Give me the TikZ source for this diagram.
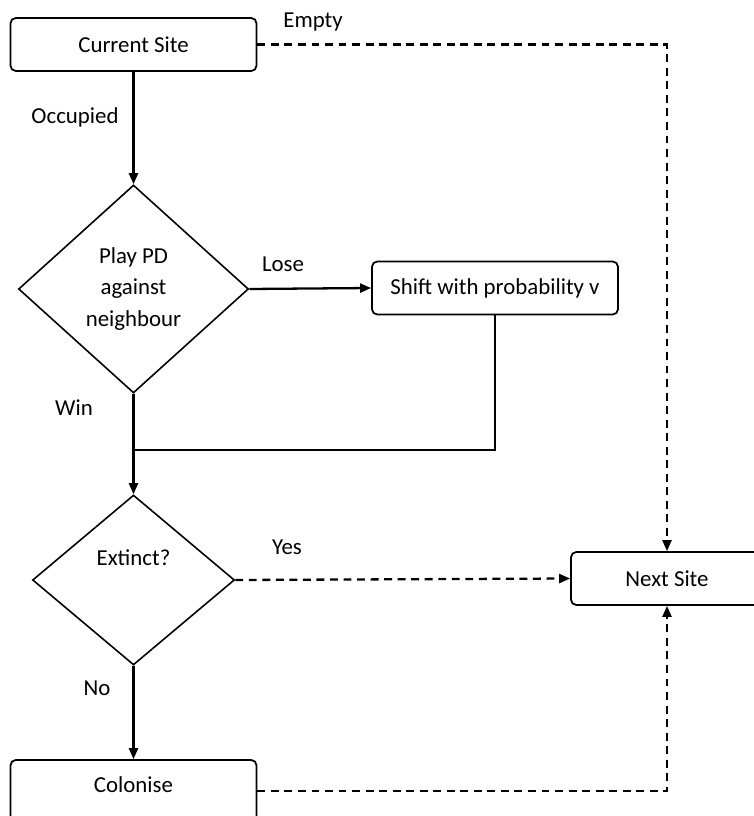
\documentclass[tikz,border=0pt]{standalone}
\usepackage{fontspec}
\setmainfont{Carlito}
\usepackage{tikz}
\usetikzlibrary{positioning, arrows.meta, shapes.geometric}

\begin{document}
\begin{tikzpicture}[
  font=\fontsize{13}{18}\selectfont,
  site/.style={draw, rounded corners=3pt, line width=1pt, minimum width=4.92cm, minimum height=1.06cm, inner sep=0pt},
  choice/.style={draw, diamond, line width=0.9pt, inner sep=0pt, align=center},
  flow/.style={line width=1.3pt, -{Triangle[length=2.2mm,width=1.8mm]}},
  skip/.style={line width=1.3pt, dash pattern=on 4.5pt off 3.2pt, -{Triangle[length=2.2mm,width=1.8mm]}}
]
\useasboundingbox (0,0) rectangle (15.08,-16.32);

% boxes
\node[site] (cur) at (2.67,-0.89) {Current Site};
\node[site] (shift) at (9.9,-5.76) {Shift with probability v};
\node[site, minimum width=3.84cm] (next) at (13.34,-11.57) {Next Site};
\node[site, minimum height=1.24cm, label={[yshift=0.12cm]center:Colonise}] (col) at (2.67,-15.82) {};

% decisions
\node[choice, minimum width=4.6cm, minimum height=4.16cm] (play) at (2.67,-5.78) {Play PD\\against\\neighbour};
\node[choice, minimum width=4.04cm, minimum height=3.4cm, label={[yshift=0.44cm]center:Extinct?}] (ext) at (2.67,-11.6) {};

% solid flow
\draw[flow] (cur.south) -- (play.north);
\node at (1.5,-2.34) {Occupied};
\draw[flow] (play.east) -- (shift.west);
\node at (5.66,-5.28) {Lose};
\coordinate (join) at (2.67,-9.0);
\draw[line width=1.3pt] (shift.south) |- (join);
\draw[flow] (play.south) -- (ext.north);
\node at (1.48,-8.16) {Win};
\draw[flow] (ext.south) -- (col.north);
\node at (1.94,-13.76) {No};

% dashed flow to next site
\draw[skip] (cur.east) -| (next.north);
\node at (6.26,-0.44) {Empty};
\draw[skip] (ext.east) -- (next.west);
\node at (5.74,-10.94) {Yes};
\draw[skip] (col.east) -| (next.south);

\end{tikzpicture}
\end{document}
